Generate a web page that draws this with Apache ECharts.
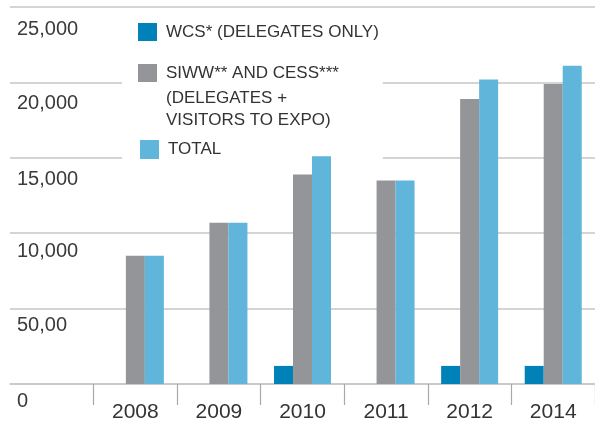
<!DOCTYPE html>
<html>
<head>
<meta charset="utf-8">
<script src="https://cdn.jsdelivr.net/npm/echarts@6/dist/echarts.min.js"></script>
<style>
html,body{margin:0;padding:0;background:#fff;}
#chart{width:595px;height:423px;}
</style>
</head>
<body>
<div id="chart"></div>
<script>
var years = ['2008', '2009', '2010', '2011', '2012', '2014'];
var wcs = [null, null, 1200, null, 1200, 1200];
var siww = [8500, 10700, 13900, 13500, 18900, 19900];
var total = [8500, 10700, 15100, 13500, 20200, 21100];
var yTickLabels = ['0', '50,00', '10,000', '15,000', '20,000', '25,000'];
var seriesNames = ['WCS* (DELEGATES ONLY)', 'SIWW** AND CESS***', 'TOTAL'];
var seriesNameExtra = '(DELEGATES +\nVISITORS TO EXPO)';

var FONT = '"Liberation Sans", Arial, sans-serif';
var cats = [''].concat(years);
function pad(arr) { return [null].concat(arr); }

var labelPad = [7, 7, 8, 12, 11, 12];
var rich = {};
labelPad.forEach(function (p, i) {
  rich['p' + i] = { fontSize: 20, fontFamily: FONT, color: '#3a3a3a', padding: [p, 0, 0, 0] };
});

var legendText = { fontSize: 17, fontFamily: FONT, color: '#333', padding: [0, 0, 0, 4] };

var chart = echarts.init(document.getElementById('chart'), null, { renderer: 'canvas' });
chart.setOption({
  animation: false,
  backgroundColor: '#fff',
  grid: { left: 10, top: 7, width: 588, bottom: 36, containLabel: false },
  title: {
    text: seriesNameExtra, left: 166, top: 87, padding: 0, z: 10,
    textStyle: { fontSize: 17, fontFamily: FONT, color: '#333', fontWeight: 'normal', lineHeight: 22 }
  },
  legend: [
    { data: [seriesNames[0]], left: 122, top: 14, padding: [9, 4, 125, 16], backgroundColor: '#ffffff',
      z: 3,
      itemWidth: 19, itemHeight: 18, icon: 'rect', textStyle: legendText, selectedMode: false },
    { data: [seriesNames[1]], left: 138, top: 64, padding: 0, z: 10, itemWidth: 19, itemHeight: 18, icon: 'rect', selectedMode: false,
      textStyle: legendText },
    { data: [seriesNames[2]], left: 140, top: 140, padding: 0, z: 10, itemWidth: 19, itemHeight: 19, icon: 'rect', textStyle: legendText, selectedMode: false }
  ],
  xAxis: {
    type: 'category',
    data: cats,
    axisLine: { show: true, lineStyle: { color: '#c6c6c6', width: 1.5 } },
    axisTick: { show: true, length: 21, lineStyle: { color: '#a8a8a8', width: 1.2 },
      interval: function (idx) { return idx !== 0; } },
    axisLabel: { fontSize: 21, fontFamily: FONT, color: '#333', margin: 18, interval: 0 },
    splitLine: { show: false }
  },
  yAxis: {
    type: 'value',
    min: 0, max: 25000, interval: 5000,
    axisLine: { show: false },
    axisTick: { show: false },
    splitLine: { show: true, lineStyle: { color: '#c6c6c6', width: 1.5 } },
    axisLabel: {
      inside: true, margin: 7, verticalAlign: 'top',
      formatter: function (v, i) { return '{p' + i + '|' + yTickLabels[i] + '}'; },
      rich: rich
    }
  },
  series: [
    { name: seriesNames[0], type: 'bar', z: 5, data: pad(wcs), barWidth: 19, barGap: '0%', itemStyle: { color: '#0082b8' } },
    { name: seriesNames[1], type: 'bar', z: 5, data: pad(siww), barWidth: 19, barGap: '0%', itemStyle: { color: '#939598' } },
    { name: seriesNames[2], type: 'bar', z: 5, data: pad(total), barWidth: 19, barGap: '0%', itemStyle: { color: '#5fb5da' } }
  ]
});
</script>
</body>
</html>
